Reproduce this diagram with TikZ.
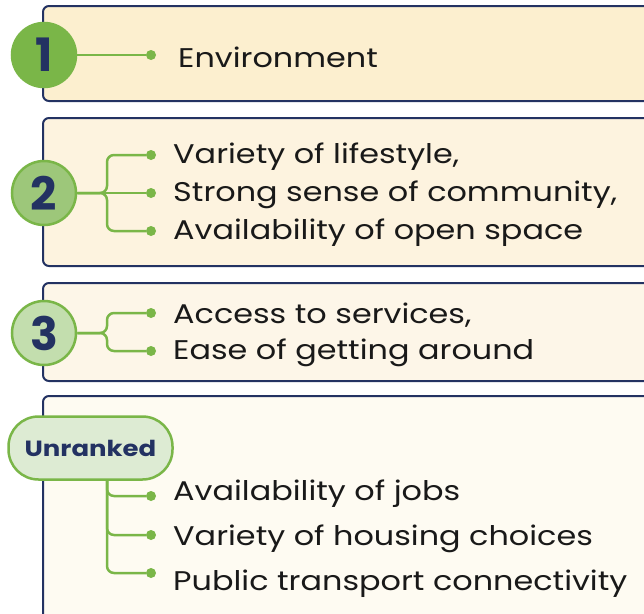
\documentclass[tikz,border=0pt]{standalone}
\usepackage{fontspec}
\setmainfont{Poppins}[FakeStretch=1.18]
\newfontfamily\numfont{Poppins}
\definecolor{navy}{HTML}{233262}
\definecolor{grn}{HTML}{7AB648}
\definecolor{fillA}{HTML}{FCEFCF}
\definecolor{fillB}{HTML}{FDF3DF}
\definecolor{fillC}{HTML}{FDF6E8}
\definecolor{fillD}{HTML}{FEFBF2}
\definecolor{cB}{HTML}{9DC77A}
\definecolor{cC}{HTML}{C3DEAE}
\definecolor{cD}{HTML}{DDEBD3}
\tikzset{
  panel/.style={draw=navy, line width=2pt, rounded corners=6pt},
  rankc/.style={circle, minimum size=64pt, inner sep=0pt, draw=grn, line width=2.5pt, text=navy, font=\numfont\fontsize{46}{46}\selectfont\bfseries},
  dot/.style={circle, fill=grn, minimum size=10pt, inner sep=0pt},
  item/.style={anchor=west, inner sep=0pt, font=\fontsize{27}{27}\selectfont, text=black!90},
  conn/.style={draw=grn, line width=2.5pt, rounded corners=7pt}
}
\begin{document}
\begin{tikzpicture}[x=1pt,y=-1pt]
\useasboundingbox (0,0) rectangle (644,613);
\clip (0,0) rectangle (644,613);
\fill[white] (0,0) rectangle (644,613);
% panels
\path[panel, fill=fillA] (43,6) rectangle (670,101);
\path[panel, fill=fillB] (43,118) rectangle (670,266);
\path[panel, fill=fillC] (43,283) rectangle (670,381);
\path[panel, fill=fillD] (43,396) rectangle (670,640);
% rank 1
\node[rankc, fill=grn] (c1) at (44,55) {1};
\node[dot] (d11) at (151,55) {};
\node[item] (t11) at (178,57) {Environment};
\draw[conn] (c1.east) -- (d11);
% rank 2
\node[rankc, fill=cB] (c2) at (44,193) {2};
\node[dot] (d21) at (151,155) {};
\node[dot] (d22) at (151,193) {};
\node[dot] (d23) at (151,231) {};
\node[item] (t21) at (173,157) {Variety of lifestyle,};
\node[item] (t22) at (173,195) {Strong sense of community,};
\node[item] (t23) at (173,233) {Availability of open space};
\coordinate (j2) at (107,193);
\draw[conn] (c2.east) -- (d22);
\draw[conn] (c2.east) -- (j2) |- (d21);
\draw[conn] (c2.east) -- (j2) |- (d23);
% rank 3
\node[rankc, fill=cC] (c3) at (44,333) {3};
\node[dot] (d31) at (151,313) {};
\node[dot] (d32) at (151,351) {};
\node[item] (t31) at (173,315) {Access to services,};
\node[item] (t32) at (173,353) {Ease of getting around};
\coordinate (j3) at (107,333);
\draw[conn] (c3.east) -- (j3) |- (d31);
\draw[conn] (c3.east) -- (j3) |- (d32);
% unranked
\node[draw=grn, line width=2.5pt, fill=cD, rounded corners=30pt, minimum width=164pt, minimum height=63pt, text=navy, font=\fontsize{22}{22}\selectfont\bfseries] (u) at (90.5,448) {Unranked};
\node[dot] (d41) at (151,496) {};
\node[dot] (d42) at (151,535) {};
\node[dot] (d43) at (151,573) {};
\node[item] (t41) at (173,494) {Availability of jobs};
\node[item] (t42) at (173,539) {Variety of housing choices};
\node[item] (t43) at (173,584) {Public transport connectivity};
\coordinate (ju) at (107,480);
\draw[conn] (ju) |- (d41);
\draw[conn] (ju) |- (d42);
\draw[conn] (ju) |- (d43);
\end{tikzpicture}
\end{document}
